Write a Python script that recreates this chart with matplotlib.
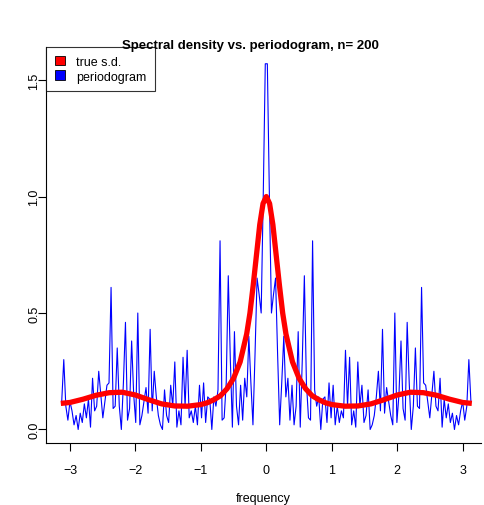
import numpy as np
import matplotlib.pyplot as plt
from matplotlib.patches import Patch

plt.rcParams['font.family'] = ['Liberation Sans', 'DejaVu Sans']

n = 200

# periodogram, positive half (mirrored for negative frequencies)
k = np.arange(1, 101)
freq_pos = np.pi * (2 * k - 1) / n
pgram_pos = [
    1.57, 1.00, 0.50, 0.58, 0.65, 0.32, 0.02, 0.20, 0.40, 0.14,
    0.22, 0.04, 0.19, 0.02, 0.10, 0.42, 0.01, 0.30, 0.66, 0.20,
    0.05, 0.04, 0.81, 0.17, 0.10, 0.14, 0.00, 0.13, 0.14, 0.03,
    0.20, 0.05, 0.19, 0.02, 0.10, 0.03, 0.08, 0.05, 0.34, 0.10,
    0.31, 0.02, 0.08, 0.01, 0.29, 0.10, 0.19, 0.03, 0.06, 0.17,
    0.00, 0.02, 0.06, 0.14, 0.25, 0.08, 0.43, 0.07, 0.18, 0.12,
    0.06, 0.02, 0.50, 0.03, 0.15, 0.38, 0.09, 0.04, 0.46, 0.20,
    0.00, 0.10, 0.35, 0.10, 0.09, 0.61, 0.20, 0.19, 0.12, 0.05,
    0.15, 0.25, 0.10, 0.08, 0.22, 0.01, 0.13, 0.05, 0.11, 0.03,
    0.07, 0.00, 0.06, 0.02, 0.08, 0.12, 0.04, 0.10, 0.30, 0.12,
]

# true spectral density, read at positive frequencies
sd_freq_pos = [0.00, 0.05, 0.10, 0.15, 0.20, 0.25, 0.30, 0.40, 0.50, 0.60,
               0.70, 0.80, 0.90, 1.00, 1.20, 1.40, 1.60, 1.80, 2.00, 2.20,
               2.40, 2.60, 2.80, 3.00, 3.14]
sd_pos = [1.00, 0.97, 0.88, 0.75, 0.62, 0.50, 0.41, 0.29, 0.22, 0.175,
          0.145, 0.128, 0.115, 0.107, 0.100, 0.101, 0.110, 0.128, 0.148, 0.160,
          0.158, 0.147, 0.130, 0.116, 0.112]

freq = np.concatenate([-freq_pos[::-1], freq_pos])
pgram = np.concatenate([pgram_pos[::-1], pgram_pos])
sd_freq = np.concatenate([-np.array(sd_freq_pos[:0:-1]), sd_freq_pos])
sd = np.concatenate([sd_pos[:0:-1], sd_pos])

W, H = 484, 506
fig = plt.figure(figsize=(W / 100, H / 100), dpi=100)
ax = fig.add_axes([46 / W, (H - 444) / H, (481 - 46) / W, (444 - 48) / H])

ax.plot(freq, pgram, color="blue", lw=0.8)
ax.plot(sd_freq, sd, color="red", lw=3.8, solid_capstyle="butt")

ax.set_xlim(-3.366, 3.28)
ax.set_ylim(-0.058, 1.642)
ax.set_xticks([-3, -2, -1, 0, 1, 2, 3])
ax.set_xticklabels(["\u22123", "\u22122", "\u22121", "0", "1", "2", "3"])
ax.set_yticks([0.0, 0.5, 1.0, 1.5])
ax.set_yticklabels(["0.0", "0.5", "1.0", "1.5"], rotation=90, va="center")
ax.tick_params(direction="out", length=6, width=0.8, labelsize=9)
ax.tick_params(axis="x", pad=9)
ax.tick_params(axis="y", pad=-2)
ax.spines["top"].set_visible(False)
ax.spines["right"].set_visible(False)
for s in ax.spines.values():
    s.set_linewidth(0.8)

ax.set_xlabel("frequency", fontsize=9, labelpad=12)
fig.text(0.5 + 8 / W, 1 - 46 / H, "Spectral density vs. periodogram, n= 200",
         ha="center", va="center", fontsize=9.5, fontweight="bold")

handles = [Patch(facecolor="red", edgecolor="black", lw=0.6, label="true s.d."),
           Patch(facecolor="blue", edgecolor="black", lw=0.6, label="periodogram")]
leg = ax.legend(handles=handles, loc="upper left", borderaxespad=0, fancybox=False,
                fontsize=9, handlelength=0.8, handleheight=0.8, handletextpad=0.9,
                labelspacing=0.2, borderpad=0.7)
leg.get_frame().set_edgecolor("black")
leg.get_frame().set_linewidth(0.8)

fig.savefig("out.png", dpi=100)
